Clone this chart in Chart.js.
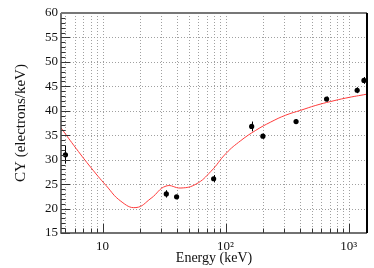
<!DOCTYPE html>
<html>
<head>
<meta charset="utf-8">
<script src="https://cdn.jsdelivr.net/npm/chart.js@4/dist/chart.umd.min.js"></script>
<style>
  html, body { margin: 0; padding: 0; background: #fff; }
  #wrap { width: 374px; height: 268px; }
</style>
</head>
<body>
<div id="wrap"><canvas id="cy" width="374" height="268"></canvas></div>
<script>
// measured points (keV, electrons/keV)
const dataX = [5, 33, 40, 80, 163, 201, 374, 662, 1173, 1332];
const dataY = [31.0, 23.0, 22.4, 26.1, 36.8, 34.8, 37.8, 42.4, 44.2, 46.2];
const dataErr = [1.8, 0.75, 0.4, 0.75, 1.0, 0.5, 0.5, 0.5, 0.6, 0.7];

// model curve
const curveX = [4.6, 6.1, 8.1, 10.7, 14.1, 18.7, 24.8, 32.8, 43.4, 57.5, 76, 101, 133, 176, 233, 308, 408, 541, 716, 948, 1410];
const curveY = [36.5, 32.3, 28.3, 24.7, 21.5, 20.2, 22.1, 24.6, 24.2, 25.0, 27.6, 31.3, 33.9, 36.0, 37.7, 39.1, 40.1, 41.1, 41.9, 42.6, 43.4];

const xLabels = { 10: '10', 100: '10²', 1000: '10³' };
const decades = [1, 10, 100, 1000];
const serif = '"Liberation Serif", "DejaVu Serif", serif';

const frame = {
    id: 'frame',
    beforeDatasetsDraw(chart) {
        const { ctx, chartArea: a, scales: { x, y } } = chart;
        ctx.save();
        ctx.strokeStyle = '#a0a0a0';
        ctx.lineWidth = 1;
        ctx.setLineDash([1, 2]);
        decades.forEach(d => {
            for (let m = 1; m <= 9; m++) {
                const v = d * m;
                if (v <= x.min || v >= x.max) continue;
                const px = Math.round(x.getPixelForValue(v)) + 0.5;
                ctx.beginPath(); ctx.moveTo(px, a.top); ctx.lineTo(px, a.bottom); ctx.stroke();
            }
        });
        for (let v = 20; v < 60; v += 5) {
            const py = Math.round(y.getPixelForValue(v)) + 0.5;
            ctx.beginPath(); ctx.moveTo(a.left, py); ctx.lineTo(a.right, py); ctx.stroke();
        }
        ctx.restore();
    },
    afterDatasetsDraw(chart) {
        const { ctx, chartArea: a, scales: { x, y } } = chart;
        ctx.save();
        // error bars
        ctx.strokeStyle = '#000';
        ctx.lineWidth = 1;
        dataX.forEach((v, i) => {
            const px = Math.round(x.getPixelForValue(v)) + 0.5;
            ctx.beginPath();
            ctx.moveTo(px, y.getPixelForValue(dataY[i] - dataErr[i]));
            ctx.lineTo(px, y.getPixelForValue(dataY[i] + dataErr[i]));
            ctx.stroke();
        });
        // inner ticks
        ctx.strokeStyle = '#333';
        for (let v = 15; v <= 60; v++) {
            const py = Math.round(y.getPixelForValue(v)) + 0.5;
            const len = v % 5 === 0 ? 9 : 4.5;
            ctx.beginPath(); ctx.moveTo(a.left, py); ctx.lineTo(a.left + len, py); ctx.stroke();
        }
        decades.forEach(d => {
            for (let m = 1; m <= 9; m++) {
                const v = d * m;
                if (v <= x.min || v >= x.max) continue;
                const px = Math.round(x.getPixelForValue(v)) + 0.5;
                const len = m === 1 ? 9 : 4.5;
                ctx.beginPath(); ctx.moveTo(px, a.bottom); ctx.lineTo(px, a.bottom - len); ctx.stroke();
            }
        });
        // frame
        ctx.lineWidth = 1.5;
        ctx.strokeStyle = '#444';
        ctx.beginPath(); ctx.moveTo(a.left, a.top); ctx.lineTo(a.left, a.bottom); ctx.lineTo(a.right, a.bottom); ctx.stroke();
        ctx.lineWidth = 2;
        ctx.strokeStyle = '#777';
        ctx.beginPath(); ctx.moveTo(a.left, a.top); ctx.lineTo(a.right, a.top); ctx.stroke();
        ctx.strokeStyle = '#000';
        ctx.beginPath(); ctx.moveTo(a.right, a.top); ctx.lineTo(a.right, a.bottom); ctx.stroke();
        ctx.restore();
    }
};

new Chart(document.getElementById('cy'), {
    data: {
        datasets: [
            {
                type: 'line',
                data: curveX.map((v, i) => ({ x: v, y: curveY[i] })),
                borderColor: '#ff3b3b',
                borderWidth: 1,
                pointRadius: 0,
                tension: 0.45,
                fill: false
            },
            {
                type: 'scatter',
                data: dataX.map((v, i) => ({ x: v, y: dataY[i] })),
                backgroundColor: '#000',
                borderColor: '#000',
                pointRadius: 2.6,
                borderWidth: 0
            }
        ]
    },
    plugins: [frame],
    options: {
        responsive: false,
        animation: false,
        layout: { padding: { top: 13, right: 7, left: 0, bottom: 0 } },
        plugins: { legend: { display: false }, tooltip: { enabled: false } },
        scales: {
            x: {
                type: 'logarithmic',
                min: 4.6,
                max: 1410,
                afterBuildTicks: s => { s.ticks = [10, 100, 1000].map(v => ({ value: v })); },
                afterFit: s => { s.height = 35; },
                grid: { display: false, drawTicks: false },
                border: { display: false },
                ticks: {
                    autoSkip: false,
                    maxRotation: 0,
                    padding: 6,
                    color: '#111',
                    font: { family: serif, size: 13 },
                    callback: v => xLabels[v] || ''
                },
                title: {
                    display: true,
                    text: 'Energy (keV)',
                    color: '#111',
                    font: { family: serif, size: 14 },
                    padding: { top: 0, bottom: 1 }
                }
            },
            y: {
                type: 'linear',
                min: 15,
                max: 60,
                afterFit: s => { s.width = 61; },
                grid: { display: false, drawTicks: false },
                border: { display: false },
                ticks: {
                    stepSize: 5,
                    padding: 3,
                    color: '#111',
                    font: { family: serif, size: 13 }
                },
                title: {
                    display: true,
                    text: 'CY (electrons/keV)',
                    color: '#111',
                    font: { family: serif, size: 15 },
                    padding: { top: 12, bottom: 0 }
                }
            }
        }
    }
});
</script>
</body>
</html>
